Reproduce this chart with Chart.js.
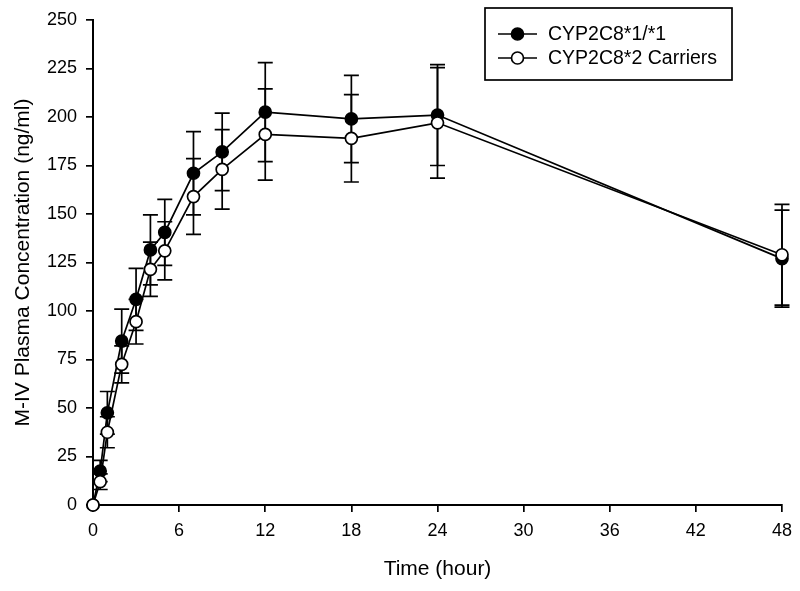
<!DOCTYPE html>
<html>
<head>
<meta charset="utf-8">
<script src="https://cdn.jsdelivr.net/npm/chart.js@4.4.1/dist/chart.umd.min.js"></script>
<style>
  html, body { margin: 0; padding: 0; background: #fff; }
  #wrap { width: 800px; height: 591px; }
</style>
</head>
<body>
<div id="wrap"><canvas id="pk"></canvas></div>
<script>
// sampling times (hour) and mean +/- SD of M-IV
var hours = [0, 0.5, 1, 2, 3, 4, 5, 7, 9, 12, 18, 24, 48];
var wildType = [0, 17.5, 47.5, 84.5, 106, 131.5, 140.5, 171, 182, 202.5, 199, 201, 127];
var wildTypeSd = [0, 5.5, 11, 16.5, 16, 18, 17, 21.5, 20, 25.5, 22.5, 26, 25];
var carriers = [0, 12, 37.5, 72.5, 94.5, 121.5, 131, 159, 173, 191, 189, 197, 129];
var carriersSd = [0, 4, 8, 9.5, 11.5, 14, 15, 19.5, 20.5, 23.5, 22.5, 28.5, 26];
var seriesNames = ["CYP2C8*1/*1", "CYP2C8*2 Carriers"];
var xTicks = [0, 6, 12, 18, 24, 30, 36, 42, 48];
var yTicks = [0, 25, 50, 75, 100, 125, 150, 175, 200, 225, 250];

var FONT = "'Liberation Sans', Arial, sans-serif";
var LW = 1.7;

function points(ys) {
  return hours.map(function (h, i) { return { x: h, y: ys[i] }; });
}

// error bars go under the markers
var errorBars = {
  id: "errorBars",
  beforeDatasetsDraw: function (chart) {
    var ctx = chart.ctx;
    var xs = chart.scales.x, ys = chart.scales.y;
    ctx.save();
    ctx.strokeStyle = "#000";
    ctx.lineWidth = LW;
    chart.data.datasets.forEach(function (ds) {
      ds.data.forEach(function (p, i) {
        var sd = ds.sd[i];
        if (!sd) return;
        var x = xs.getPixelForValue(p.x);
        var top = ys.getPixelForValue(p.y + sd);
        var bot = ys.getPixelForValue(p.y - sd);
        ctx.beginPath();
        ctx.moveTo(x, top); ctx.lineTo(x, bot);
        ctx.moveTo(x - 7.5, top); ctx.lineTo(x + 7.5, top);
        ctx.moveTo(x - 7.5, bot); ctx.lineTo(x + 7.5, bot);
        ctx.stroke();
      });
    });
    ctx.restore();
  }
};

// boxed legend in the top right corner
var boxLegend = {
  id: "boxLegend",
  afterDraw: function (chart) {
    var ctx = chart.ctx;
    var left = 485, top = 8, w = 247, h = 72;
    ctx.save();
    ctx.strokeStyle = "#000";
    ctx.lineWidth = LW;
    ctx.strokeRect(left, top, w, h);
    ctx.font = "19.5px " + FONT;
    ctx.textBaseline = "middle";
    chart.data.datasets.forEach(function (ds, i) {
      var y = top + 26 + i * 24;
      ctx.beginPath();
      ctx.moveTo(498, y); ctx.lineTo(537, y);
      ctx.stroke();
      ctx.beginPath();
      ctx.arc(517.5, y, 6, 0, Math.PI * 2);
      ctx.fillStyle = ds.pointBackgroundColor;
      ctx.fill();
      ctx.stroke();
      ctx.fillStyle = "#000";
      ctx.fillText(ds.label, 548, y + 1);
    });
    ctx.restore();
  }
};

new Chart(document.getElementById("pk"), {
  type: "line",
  data: {
    datasets: [
      {
        label: seriesNames[0],
        data: points(wildType),
        sd: wildTypeSd,
        borderColor: "#000",
        borderWidth: LW,
        pointRadius: 6,
        pointBorderWidth: LW,
        pointBorderColor: "#000",
        pointBackgroundColor: "#000",
        tension: 0,
        clip: false,
        order: 1,
      },
      {
        label: seriesNames[1],
        data: points(carriers),
        sd: carriersSd,
        borderColor: "#000",
        borderWidth: LW,
        pointRadius: 6,
        pointBorderWidth: LW,
        pointBorderColor: "#000",
        pointBackgroundColor: "#fff",
        tension: 0,
        clip: false,
        order: 0,
      },
    ],
  },
  options: {
    responsive: true,
    maintainAspectRatio: false,
    animation: false,
    layout: { padding: { left: 0, top: 20, right: 14, bottom: 0 } },
    plugins: { legend: { display: false }, tooltip: { enabled: false } },
    scales: {
      x: {
        type: "linear",
        min: 0,
        max: 48,
        afterBuildTicks: function (axis) {
          axis.ticks = xTicks.map(function (v) { return { value: v }; });
        },
        afterFit: function (axis) { axis.height = 86; },
        border: { color: "#000", width: 2 },
        grid: { drawOnChartArea: false, tickLength: 7, color: "#000", lineWidth: LW },
        ticks: { color: "#000", font: { family: FONT, size: 18 }, padding: 8, maxRotation: 0 },
        title: {
          display: true,
          text: "Time (hour)",
          color: "#000",
          font: { family: FONT, size: 21 },
          padding: { top: 4, bottom: 9 },
        },
      },
      y: {
        min: 0,
        max: 250,
        afterBuildTicks: function (axis) {
          axis.ticks = yTicks.map(function (v) { return { value: v }; });
        },
        afterFit: function (axis) { axis.width = 93; },
        border: { color: "#000", width: 2 },
        grid: { drawOnChartArea: false, tickLength: 7, color: "#000", lineWidth: LW },
        ticks: { color: "#000", font: { family: FONT, size: 18 }, padding: 9 },
        title: {
          display: true,
          text: "M-IV Plasma Concentration (ng/ml)",
          color: "#000",
          font: { family: FONT, size: 21 },
          padding: { top: 11, bottom: 4 },
        },
      },
    },
  },
  plugins: [errorBars, boxLegend],
});
</script>
</body>
</html>
